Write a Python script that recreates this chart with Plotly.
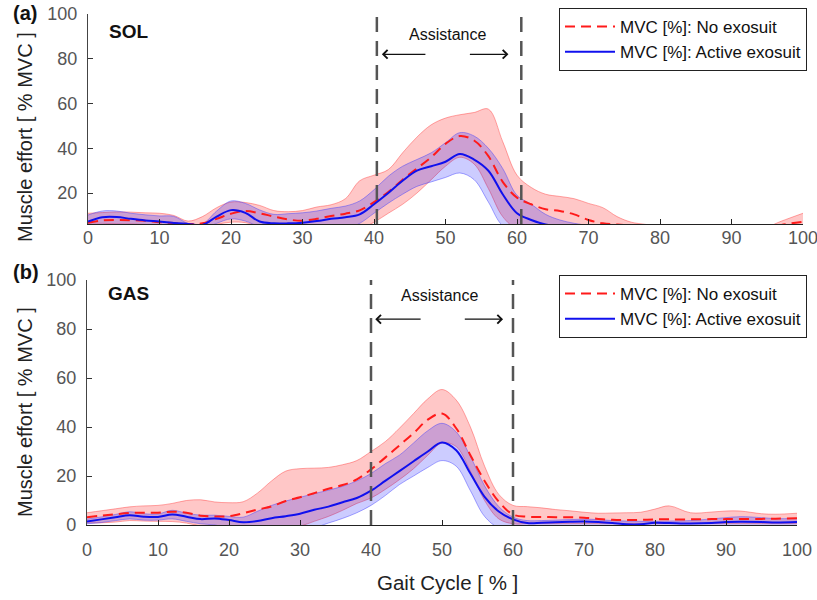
import plotly.graph_objects as go

# ---------------- data ----------------
GAIT = [0, 2, 4, 6, 8, 10, 12, 14, 16, 18, 20, 22, 24, 26, 28, 30, 32, 34, 36, 38,
        40, 42, 44, 46, 48, 50, 52, 54, 56, 58, 60, 62, 64, 66, 68, 70, 72, 74, 76, 78,
        80, 82, 85, 88, 90, 92, 95, 97, 100]

# SOL (panel a)
SOL_NO_MEAN = [6.8, 7.8, 8.0, 7.9, 7.6, 7.0, 6.6, 6.2, 6.5, 8.5, 10.8, 12.0, 11.0, 9.5, 8.2, 7.7, 8.5, 9.8, 10.8, 12.3,
               16.0, 20.5, 26.0, 31.0, 36.0, 42.0, 45.5, 43.5, 36.5, 25.0, 18.0, 15.0, 12.8, 12.0, 10.5, 8.0, 6.5, 6.0, 5.5, 5.2,
               5.0, 5.0, 5.0, 5.0, 5.0, 5.0, 4.5, 5.8, 7.2]
SOL_NO_HI = [11.0, 11.3, 11.6, 11.5, 11.2, 11.0, 10.0, 7.5, 9.5, 13.5, 16.0, 15.8, 14.5, 12.2, 11.7, 12.2, 13.8, 14.8, 17.5, 25.5,
             28.0, 30.5, 38.0, 45.0, 50.5, 53.5, 55.0, 56.0, 57.5, 43.0, 28.0, 22.5, 19.5, 18.5, 17.5, 15.4, 13.5, 9.5, 7.0, 6.0,
             5.0, 4.5, 4.0, 4.0, 4.0, 4.0, 5.0, 7.5, 11.0]
SOL_NO_LO = [6.5, 6.5, 6.3, 6.2, 6.0, 5.5, 5.0, 4.0, 4.0, 6.0, 7.0, 6.8, 5.0, 4.0, 4.0, 4.0, 4.0, 4.0, 4.0, 4.0,
             7.0, 11.0, 15.0, 20.0, 26.0, 32.0, 36.0, 33.0, 22.0, 9.5, 4.0, 4.0, 4.0, 4.0, 4.0, 4.0, 4.0, 4.0, 4.0, 4.0,
             4.0, 4.0, 4.0, 4.0, 4.0, 4.0, 4.0, 4.0, 4.0]
SOL_EXO_MEAN = [7.3, 9.2, 9.3, 8.5, 7.8, 7.3, 6.7, 6.2, 5.8, 9.5, 12.4, 11.2, 7.3, 6.5, 6.5, 6.8, 7.5, 8.5, 9.2, 10.5,
                15.0, 20.0, 25.5, 30.0, 32.0, 34.0, 37.5, 35.0, 30.0, 19.5, 11.0, 8.0, 6.0, 5.0, 4.0, 4.0, 4.0, 4.0, 4.0, 4.0,
                4.0, 4.0, 4.0, 4.0, 4.0, 4.0, 4.0, 4.0, 4.0]
SOL_EXO_HI = [10.2, 12.0, 12.0, 11.0, 10.3, 9.8, 9.6, 6.5, 6.3, 12.0, 16.5, 15.4, 12.5, 10.5, 10.8, 11.2, 12.0, 13.2, 14.2, 16.5,
              21.5, 27.5, 32.0, 35.0, 38.0, 42.5, 47.0, 45.5, 40.0, 31.0, 19.0, 15.0, 10.5, 8.0, 6.5, 5.5, 4.0, 4.0, 4.0, 4.0,
              4.0, 4.0, 4.0, 4.0, 4.0, 4.0, 4.0, 4.0, 4.0]
SOL_EXO_LO = [4.0, 4.0, 4.0, 4.0, 4.0, 4.0, 4.0, 4.0, 4.0, 6.5, 8.5, 7.5, 5.0, 4.0, 4.0, 4.0, 4.0, 4.0, 4.0, 6.5,
              11.0, 15.5, 19.5, 23.0, 25.0, 27.0, 29.0, 26.0, 16.0, 5.5, 4.0, 4.0, 4.0, 4.0, 4.0, 4.0, 4.0, 4.0, 4.0, 4.0,
              4.0, 4.0, 4.0, 4.0, 4.0, 4.0, 4.0, 4.0, 4.0]

# GAS (panel b)
GAS_NO_MEAN = [3.2, 3.8, 4.4, 4.9, 5.0, 5.0, 5.4, 5.0, 3.8, 3.5, 3.6, 4.8, 6.3, 7.6, 9.8, 11.3, 13.0, 14.8, 16.3, 18.6,
               22.7, 27.5, 32.5, 37.5, 43.0, 45.5, 39.5, 28.5, 18.0, 9.5, 4.3, 3.4, 3.3, 3.2, 3.2, 3.0, 2.5, 2.1, 2.0, 2.1,
               2.3, 2.3, 2.3, 2.4, 2.4, 2.5, 2.5, 2.6, 2.8]
GAS_NO_HI = [5.0, 5.8, 6.6, 7.4, 7.8, 8.0, 8.8, 10.0, 10.3, 9.4, 9.1, 9.5, 13.0, 18.0, 22.0, 23.0, 23.2, 23.5, 24.6, 26.3,
             30.0, 34.0, 39.5, 45.5, 51.5, 55.3, 51.0, 40.0, 24.0, 12.5, 8.0, 7.5, 7.0, 6.3, 5.8, 5.2, 4.8, 4.9, 5.0, 5.2,
             6.5, 7.8, 5.0, 5.3, 5.7, 5.7, 4.6, 4.4, 4.8]
GAS_NO_LO = [0.8, 0.9, 1.2, 1.8, 1.6, 1.5, 1.4, 0.8, -0.5, -2.0, -2.0, -2.0, -2.0, -2.0, -1.5, -0.5, 1.5, 3.5, 6.0, 8.8,
             11.0, 14.5, 18.5, 23.0, 28.5, 33.5, 32.0, 22.0, 10.0, 2.5, 0.5, 0.5, 0.5, 0.5, 0.5, 0.5, 0.5, 0.5, 0.5, 0.5,
             0.5, 0.5, 0.5, 0.5, 0.5, 0.5, 0.5, 0.5, 0.5]
GAS_EXO_MEAN = [1.4, 2.3, 3.2, 4.0, 3.4, 3.3, 4.3, 3.4, 2.4, 2.7, 2.0, 1.1, 1.6, 2.8, 3.6, 4.6, 6.2, 7.5, 9.3, 11.0,
                14.0, 18.0, 22.0, 26.0, 30.0, 33.7, 30.5, 21.0, 11.5, 5.5, 2.3, 0.8, 0.9, 1.1, 1.3, 1.4, 1.2, 0.8, 0.3, 0.3,
                0.9, 0.8, 0.6, 0.8, 1.2, 1.3, 1.2, 1.0, 1.2]
GAS_EXO_HI = [2.4, 3.3, 4.3, 5.4, 4.6, 4.5, 6.0, 4.8, 4.0, 4.0, 3.5, 3.2, 5.6, 8.0, 9.8, 11.3, 12.8, 14.2, 15.8, 18.0,
              21.0, 25.0, 28.5, 33.5, 38.5, 41.5, 38.0, 28.0, 16.0, 7.5, 3.2, 1.8, 1.8, 2.0, 2.2, 2.4, 2.2, 1.8, 1.6, 1.5,
              1.5, 1.6, 1.8, 2.5, 3.0, 3.4, 3.0, 2.6, 2.7]
GAS_EXO_LO = [0.5, 1.0, 1.8, 2.5, 2.0, 2.0, 2.5, 1.5, 0.5, 0.0, -1.0, -1.0, -1.0, -1.0, -1.0, -1.0, -1.0, 0.8, 2.7, 5.0,
              8.0, 12.0, 16.5, 20.0, 23.5, 26.3, 24.0, 14.0, 3.5, -1.0, -0.3, -0.3, -0.3, -0.3, -0.3, -0.3, -0.3, -0.3, -0.3, -0.3,
              -0.3, -0.3, -0.3, -0.3, -0.3, -0.3, -0.3, -0.3, -0.3]

ASSIST_SOL = [40.4, 60.6]
ASSIST_GAS = [40.0, 60.0]
X_TICKS = [0, 10, 20, 30, 40, 50, 60, 70, 80, 90, 100]
Y_TICKS_SOL = [20, 40, 60, 80, 100]
Y_TICKS_GAS = [0, 20, 40, 60, 80, 100]

NAME_NO = "MVC [%]: No exosuit"
NAME_EXO = "MVC [%]: Active exosuit"

# ---------------- styling ----------------
FONT = "Liberation Sans, Arial, sans-serif"
RED_FILL = "rgba(255,0,0,0.22)"
RED_EDGE = "rgba(255,60,60,0.45)"
BLUE_FILL = "rgba(0,0,255,0.2)"
BLUE_EDGE = "rgba(60,60,255,0.45)"

W, H = 817, 600


def fx(px):
    return px / W


def fy(py):
    return 1 - py / H


fig = go.Figure()


def add_panel(xa, ya, legend, no_lo, no_hi, no_mean, exo_lo, exo_hi, exo_mean):
    common = dict(x=GAIT, xaxis=xa, yaxis=ya, mode="lines", hoverinfo="skip")
    fig.add_trace(go.Scatter(y=no_lo, line=dict(color=RED_EDGE, width=1, shape="spline"),
                             showlegend=False, **common))
    fig.add_trace(go.Scatter(y=no_hi, line=dict(color=RED_EDGE, width=1, shape="spline"),
                             fill="tonexty", fillcolor=RED_FILL, showlegend=False, **common))
    fig.add_trace(go.Scatter(y=exo_lo, line=dict(color=BLUE_EDGE, width=1, shape="spline"),
                             showlegend=False, **common))
    fig.add_trace(go.Scatter(y=exo_hi, line=dict(color=BLUE_EDGE, width=1, shape="spline"),
                             fill="tonexty", fillcolor=BLUE_FILL, showlegend=False, **common))
    fig.add_trace(go.Scatter(y=no_mean, name=NAME_NO, legend=legend,
                             line=dict(color="#ff1a1a", width=2, dash="10px,6px", shape="spline"), **common))
    fig.add_trace(go.Scatter(y=exo_mean, name=NAME_EXO, legend=legend,
                             line=dict(color="#1010ee", width=2, shape="spline"), **common))


add_panel("x", "y", "legend", SOL_NO_LO, SOL_NO_HI, SOL_NO_MEAN, SOL_EXO_LO, SOL_EXO_HI, SOL_EXO_MEAN)
add_panel("x2", "y2", "legend2", GAS_NO_LO, GAS_NO_HI, GAS_NO_MEAN, GAS_EXO_LO, GAS_EXO_HI, GAS_EXO_MEAN)

tickfont = dict(family=FONT, size=18, color="#555555")
xax = dict(range=[0, 100], tickvals=X_TICKS, ticks="inside", ticklen=5, tickwidth=1.2,
           tickcolor="#222", showline=True, linecolor="#222", linewidth=1.3, showgrid=False,
           zeroline=False, tickfont=tickfont, ticklabeloverflow="allow")
yax = dict(ticks="inside", ticklen=5, tickwidth=1.2, tickcolor="#333", showline=True,
           linecolor="#444", linewidth=1.3, showgrid=False, zeroline=False, tickfont=tickfont,
           ticklabelstandoff=6, ticklabeloverflow="allow")

legend_common = dict(x=fx(807), xanchor="right", yanchor="top", bgcolor="white",
                     bordercolor="#222", borderwidth=1, traceorder="normal",
                     font=dict(family=FONT, size=17, color="#111"), itemwidth=50, tracegroupgap=0)

fig.update_layout(
    width=W, height=H, margin=dict(l=0, r=0, t=0, b=0, autoexpand=False),
    paper_bgcolor="white", plot_bgcolor="white",
    xaxis=dict(domain=[fx(88), fx(803)], anchor="y", ticklabelstandoff=-3, **xax),
    yaxis=dict(domain=[fy(224), fy(14)], range=[6.2, 100], tickvals=Y_TICKS_SOL,
               anchor="x", **yax),
    xaxis2=dict(domain=[fx(87), fx(797)], anchor="y2", ticklabelstandoff=8, **xax),
    yaxis2=dict(domain=[fy(525), fy(280)], range=[0, 100], tickvals=Y_TICKS_GAS,
                anchor="x2", **yax),
    legend=dict(y=fy(8), **legend_common),
    legend2=dict(y=fy(275), **legend_common),
    showlegend=True,
)

# assistance boundary lines
for xr, ydom, bounds in (("x", "y domain", ASSIST_SOL), ("x2", "y2 domain", ASSIST_GAS)):
    for b in bounds:
        fig.add_shape(type="line", xref=xr, yref=ydom, x0=b, x1=b, y0=0, y1=1,
                      line=dict(color="#555555", width=2.5, dash="15px,9px"))

ann_font = dict(family=FONT, size=16, color="#111")
# Assistance labels and arrows
for xr, yr, label_xy, arrows in (
    ("x", "y", (50.3, 91), [((41.1, 82), (47.4, 82)), ((58.8, 82), (53.2, 82))]),
    ("x2", "y2", (49.6, 93.5), [((40.6, 84), (47.2, 84)), ((58.6, 84), (53.0, 84))]),
):
    fig.add_annotation(xref=xr, yref=yr, x=label_xy[0], y=label_xy[1], text="Assistance",
                       showarrow=False, font=ann_font)
    for head, tail in arrows:
        fig.add_annotation(xref=xr, yref=yr, x=head[0], y=head[1], axref=xr, ayref=yr,
                           ax=tail[0], ay=tail[1], text="", showarrow=True, arrowhead=4,
                           arrowsize=1.3, arrowwidth=1.3, arrowcolor="#111", standoff=0)

# muscle names
fig.add_annotation(xref="x", yref="y", x=2.6, y=92, text="SOL", showarrow=False, xanchor="left",
                   font=dict(family=FONT, size=19, color="#111", weight="bold"))
fig.add_annotation(xref="x2", yref="y2", x=2.7, y=94.3, text="GAS", showarrow=False, xanchor="left",
                   font=dict(family=FONT, size=19, color="#111", weight="bold"))

# panel labels
for txt, yc in (("(a)", 13), ("(b)", 272)):
    fig.add_annotation(xref="paper", yref="paper", x=fx(11), y=fy(yc), text=txt,
                       showarrow=False, xanchor="left", yanchor="middle",
                       font=dict(family=FONT, size=20, color="#111", weight="bold"))

# axis titles
for yc in (137, 412):
    fig.add_annotation(xref="paper", yref="paper", x=fx(25), y=fy(yc),
                       text="Muscle effort [ % MVC ]", textangle=-90, showarrow=False,
                       xanchor="center", yanchor="middle", font=dict(family=FONT, size=20, color="#222"))
fig.add_annotation(xref="paper", yref="paper", x=fx(448), y=fy(582), text="Gait Cycle [ % ]",
                   showarrow=False, xanchor="center", yanchor="middle",
                   font=dict(family=FONT, size=20.5, color="#222"))

# the figure fills the 817x600 window exactly: drop the page's default body margin
fig.write_html("out.html", config={"displayModeBar": False},
               post_script="document.body.style.margin='0px';")
